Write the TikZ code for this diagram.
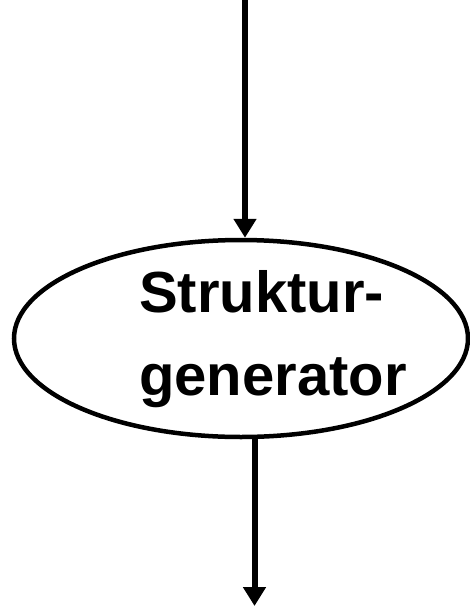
\documentclass[tikz,border=0pt]{standalone}
\usepackage{fontspec}
\setmainfont{Liberation Sans}
\usetikzlibrary{shapes.geometric,arrows.meta}
\begin{document}
\begin{tikzpicture}[x=1pt,y=-1pt,
  procbox/.style={ellipse,draw=black,line width=4.5pt,minimum width=454pt,minimum height=197pt,inner sep=0pt},
  lbl/.style={anchor=base west,inner sep=0pt,font=\bfseries\fontsize{58}{83}\selectfont},
  flow/.style={line width=6pt,-{Triangle[length=19pt,width=22pt]}}]
\useasboundingbox (0,0) rectangle (470,606);
\node[procbox] (e) at (241,338.5) {};
\node[lbl] (l1) at (139,312) {Struktur-};
\node[lbl] (l2) at (139,395) {generator};
\coordinate (in) at (245,0);
\coordinate (out) at (254.5,606);
\draw[flow] (in) -- (in |- e.north);
\draw[flow] (out |- e.south) -- (out);
\end{tikzpicture}
\end{document}
